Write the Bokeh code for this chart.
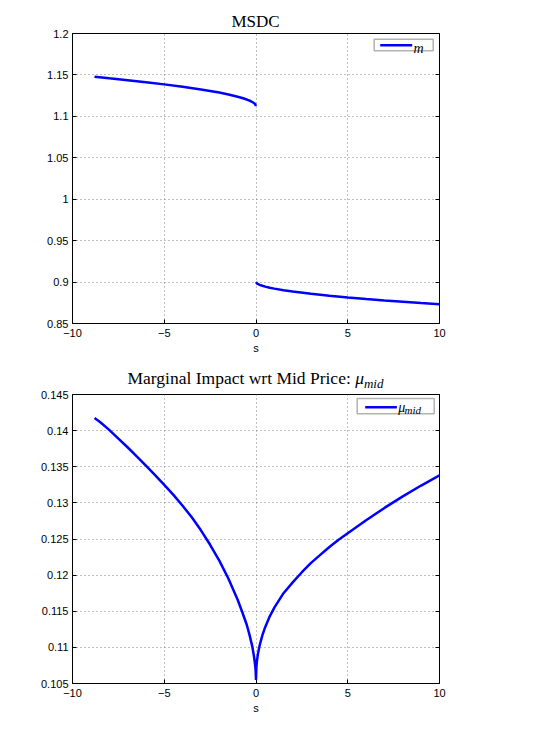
from bokeh.plotting import figure
from bokeh.models import Label, BoxAnnotation, FixedTicker, LinearAxis, Range1d, CustomJSTickFormatter, Div
from bokeh.layouts import column
from bokeh.embed import file_html
from bokeh.resources import INLINE

# ---------------- data ----------------
x_ticks = [-10, -5, 0, 5, 10]
x_tick_labels = ["\u221210", "\u22125", "0", "5", "10"]

m_y_ticks = [0.85, 0.9, 0.95, 1.0, 1.05, 1.1, 1.15, 1.2]
m_y_tick_labels = ["0.85", "0.9", "0.95", "1", "1.05", "1.1", "1.15", "1.2"]

mu_y_ticks = [0.105, 0.11, 0.115, 0.12, 0.125, 0.13, 0.135, 0.14, 0.145]
mu_y_tick_labels = ["0.105", "0.11", "0.115", "0.12", "0.125", "0.13", "0.135", "0.14", "0.145"]

# MSDC, m(s): two branches (jump at s = 0)
s_m_left = [-8.8, -8, -7, -6, -5, -4, -3, -2.5, -2, -1.5, -1, -0.75, -0.5,
            -0.3, -0.2, -0.1, -0.05, 0]
m_left = [1.1477, 1.1459, 1.1437, 1.1413, 1.1386, 1.1357, 1.1325, 1.1307,
          1.1287, 1.1264, 1.1237, 1.1222, 1.1203, 1.1185, 1.1173, 1.1159,
          1.1148, 1.1125]
s_m_right = [0, 0.05, 0.1, 0.2, 0.35, 0.5, 0.75, 1, 1.5, 2, 3, 4, 5, 6, 7, 8, 9, 10]
m_right = [0.9000, 0.8984, 0.8977, 0.8966, 0.8955, 0.8945, 0.8932, 0.8921,
           0.8902, 0.8886, 0.8858, 0.8835, 0.8814, 0.8795, 0.8778, 0.8762,
           0.8746, 0.8732]

# Marginal impact wrt mid price, mu_mid(s)
s_mu = [-8.8, -8.5, -8, -7.5, -7, -6.5, -6, -5.5, -5, -4.5, -4, -3.5, -3,
        -2.5, -2, -1.5, -1, -0.75, -0.5, -0.35, -0.2, -0.1, -0.05, -0.02, 0,
        0.02, 0.05, 0.1, 0.2, 0.35, 0.5, 0.75, 1, 1.5, 2, 2.5, 3, 3.5, 4, 4.5,
        5, 6, 7, 8, 9, 10]
mu_mid = [0.14175, 0.1412, 0.1401, 0.1389, 0.1377, 0.13645, 0.13515, 0.13385,
          0.1325, 0.1311, 0.1296, 0.1280, 0.1262, 0.1242, 0.1220, 0.1195,
          0.1166, 0.1149, 0.1131, 0.1117, 0.1101, 0.1086, 0.1076, 0.1068,
          0.1055,
          0.1072, 0.1081, 0.1090, 0.1103, 0.1117, 0.1128, 0.1143, 0.1155,
          0.1175, 0.1190, 0.1204, 0.1217, 0.1228, 0.1239, 0.1249, 0.1258,
          0.1276, 0.1293, 0.1309, 0.1324, 0.1338]

BLUE = "#0000ff"
FW = 367
ML = 72
MR = 80
TW = 2 * ML + FW


def make_fig(yr, yticks, ylabels, fh, top):
    p = figure(frame_width=FW, frame_height=fh,
               x_range=Range1d(-10, 10), y_range=Range1d(*yr),
               output_backend="svg", toolbar_location=None,
               min_border_left=ML, min_border_right=MR,
               min_border_top=top, min_border_bottom=40,
               background_fill_color="white", border_fill_color="white")
    p.outline_line_color = "black"
    p.outline_line_width = 1
    p.xaxis.ticker = FixedTicker(ticks=x_ticks)
    p.xaxis.major_label_overrides = dict(zip(x_ticks, x_tick_labels))
    p.yaxis.ticker = FixedTicker(ticks=yticks)
    p.yaxis.major_label_overrides = dict(zip(yticks, ylabels))
    p.axis.major_label_text_font = "Liberation Sans"
    p.axis.major_label_text_font_size = "11px"
    p.axis.major_label_text_color = "black"
    p.axis.major_tick_in = 4
    p.axis.major_tick_out = 0
    p.axis.major_tick_line_color = "black"
    p.axis.minor_tick_line_color = None
    p.axis.axis_line_color = "black"
    p.xaxis.major_label_standoff = 5
    p.yaxis.major_label_standoff = 4
    p.xaxis.axis_label = "s"
    p.xaxis.axis_label_text_font = "Liberation Sans"
    p.xaxis.axis_label_text_font_size = "11px"
    p.xaxis.axis_label_text_font_style = "normal"
    p.xaxis.axis_label_text_color = "black"
    p.xaxis.axis_label_standoff = 2
    p.grid.grid_line_color = "#808080"
    p.grid.grid_line_dash = "1 3"
    p.grid.grid_line_width = 1
    ax = LinearAxis(ticker=FixedTicker(ticks=yticks),
                    formatter=CustomJSTickFormatter(code="return ''"),
                    major_tick_in=4, major_tick_out=0,
                    minor_tick_line_color=None, axis_line_color="black",
                    major_label_text_font_size="1px")
    p.add_layout(ax, "right")
    return p


def box(p, l, r, t, b, **kw):
    p.add_layout(BoxAnnotation(left=l, right=r, top=t, bottom=b,
                               left_units="screen", right_units="screen",
                               top_units="screen", bottom_units="screen", **kw))


def lab(p, x, y, text, **kw):
    p.add_layout(Label(x=x, y=y, x_units="screen", y_units="screen", text=text,
                       text_baseline="alphabetic", text_color="black", **kw))


def title_div(html, size, pad, h):
    return Div(text=('<div style="width:%dpx;font-family:\'Liberation Serif\';'
                     'font-size:%spx;line-height:%spx;padding-top:%spx;'
                     'text-align:center;color:black;white-space:nowrap">%s</div>')
               % (TW, size, size, pad, html),
               width=TW, height=h, margin=0)


# ---------------- top: MSDC ----------------
title1 = title_div("MSDC", 17, 13.0, 28)

FH1 = 290
p1 = make_fig((0.85, 1.2), m_y_ticks, m_y_tick_labels, FH1, 5)
p1.line(s_m_left, m_left, line_color=BLUE, line_width=2.5)
p1.line(s_m_right, m_right, line_color=BLUE, line_width=2.5)
box(p1, 301.7, 360.7, 284.3, 272.8, fill_color="white", fill_alpha=1,
    line_color="black", line_width=1.5)
box(p1, 307.7, 339.7, 279.5, 277.0, fill_color=BLUE, fill_alpha=1, line_color=None)
lab(p1, 341, 275, "m", text_font="Liberation Serif", text_font_style="italic",
    text_font_size="14px")

# ---------------- bottom title (HTML, for the subscript) ----------------
title2 = title_div('Marginal Impact wrt Mid Price: <i>\u03bc</i>'
                   '<i style="font-size:13px;position:relative;top:4px">mid</i>',
                   17.5, 6.6, 26)

# ---------------- bottom: mu_mid ----------------
FH2 = 289
p2 = make_fig((0.105, 0.145), mu_y_ticks, mu_y_tick_labels, FH2, 5)
p2.line(s_mu, mu_mid, line_color=BLUE, line_width=2.5)
box(p2, 284.7, 361.7, 285.0, 269.7, fill_color="white", fill_alpha=1,
    line_color="black", line_width=1.5)
box(p2, 292.7, 324.4, 277.5, 275.0, fill_color=BLUE, fill_alpha=1, line_color=None)
lab(p2, 325.7, 276, "\u03bc", text_font="Liberation Serif",
    text_font_style="italic", text_font_size="14px")
lab(p2, 332.0, 273.3, "mid", text_font="Liberation Serif",
    text_font_style="italic", text_font_size="11px")

layout = column(title1, p1, title2, p2)
open("out.html", "w").write(file_html(layout, INLINE))
